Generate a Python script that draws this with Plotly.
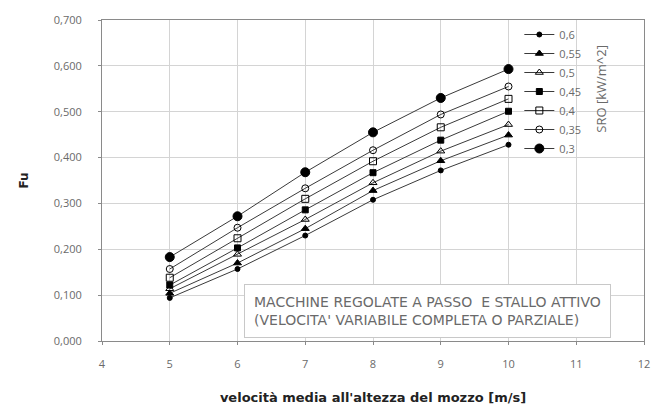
import plotly.graph_objects as go

speeds = [5, 6, 7, 8, 9, 10]
sro_labels = ["0,6", "0,55", "0,5", "0,45", "0,4", "0,35", "0,3"]
fu_06 = [0.094, 0.157, 0.230, 0.308, 0.372, 0.428]
fu_055 = [0.104, 0.170, 0.245, 0.328, 0.393, 0.449]
fu_05 = [0.114, 0.189, 0.265, 0.345, 0.414, 0.472]
fu_045 = [0.122, 0.203, 0.286, 0.367, 0.438, 0.501]
fu_04 = [0.138, 0.224, 0.310, 0.392, 0.466, 0.528]
fu_035 = [0.157, 0.247, 0.333, 0.416, 0.494, 0.555]
fu_03 = [0.183, 0.272, 0.368, 0.455, 0.530, 0.593]
series = [fu_06, fu_055, fu_05, fu_045, fu_04, fu_035, fu_03]
y_ticks = [0.0, 0.1, 0.2, 0.3, 0.4, 0.5, 0.6, 0.7]
x_ticks = [4, 5, 6, 7, 8, 9, 10, 11, 12]

markers = [
    dict(symbol="circle", size=5, color="black"),
    dict(symbol="triangle-up", size=7, color="black"),
    dict(symbol="triangle-up-open", size=7, color="black"),
    dict(symbol="square", size=6, color="black"),
    dict(symbol="square-open", size=7, color="black"),
    dict(symbol="circle-open", size=7, color="black"),
    dict(symbol="circle", size=9, color="black"),
]

fig = go.Figure()
for lab, vals, mk in zip(sro_labels, series, markers):
    fig.add_trace(go.Scatter(
        x=speeds, y=vals, name=lab, mode="lines+markers",
        line=dict(color="#3a3a3a", width=1),
        marker=dict(symbol=mk["symbol"], size=mk["size"], color=mk["color"],
                    line=dict(color="black", width=1)),
    ))

gray = "#6a6a6a"
fig.update_layout(
    width=667, height=414,
    margin=dict(l=102, r=23, t=14, b=73),
    paper_bgcolor="white", plot_bgcolor="white",
    separators=",.",
    font=dict(family="Open Sans, sans-serif", size=11, color=gray),
    showlegend=True,
    legend=dict(x=0.77, y=1.0, xanchor="left", yanchor="top",
                bgcolor="rgba(255,255,255,0)", borderwidth=0,
                font=dict(size=11, color=gray), tracegroupgap=0,
                itemwidth=30),
    xaxis=dict(range=[4, 12], tickvals=x_ticks, showgrid=True,
               gridcolor="#d4d4d4", gridwidth=1, zeroline=False,
               showline=True, linecolor="#8a8a8a", mirror=True,
               ticks="outside", ticklen=3, tickcolor="#8a8a8a",
               ticklabelstandoff=10,
               tickfont=dict(size=11, color=gray),
               title=dict(text="<b>velocità media all'altezza del mozzo [m/s]</b>",
                          font=dict(family="DejaVu Sans, sans-serif", size=13, color="#222"),
                          standoff=22)),
    yaxis=dict(range=[0, 0.7], tickvals=y_ticks, tickformat=".3f",
               showgrid=True, gridcolor="#d4d4d4", gridwidth=1, zeroline=False,
               showline=True, linecolor="#8a8a8a", mirror=True,
               ticks="outside", ticklen=3, tickcolor="#8a8a8a",
               ticklabelstandoff=14,
               tickfont=dict(size=11, color=gray),
               title=dict(text="<b>Fu</b>", font=dict(family="DejaVu Sans, sans-serif", size=12, color="#222"),
                          standoff=22)),
)

fig.add_annotation(xref="paper", yref="paper", x=0.92, y=0.785,
                   xanchor="center", yanchor="middle",
                   text="SRO [kW/m^2]", textangle=-90, showarrow=False,
                   font=dict(size=13, color=gray))

fig.add_annotation(xref="paper", yref="paper", x=0.262, y=0.008,
                   xanchor="left", yanchor="bottom", align="left",
                   text="MACCHINE REGOLATE A PASSO  E STALLO ATTIVO<br>(VELOCITA' VARIABILE COMPLETA O PARZIALE)",
                   showarrow=False, bordercolor="#c8c8c8", borderwidth=1,
                   borderpad=9, bgcolor="white",
                   font=dict(family="DejaVu Sans, sans-serif", size=14, color=gray))

fig.write_html("out.html")
